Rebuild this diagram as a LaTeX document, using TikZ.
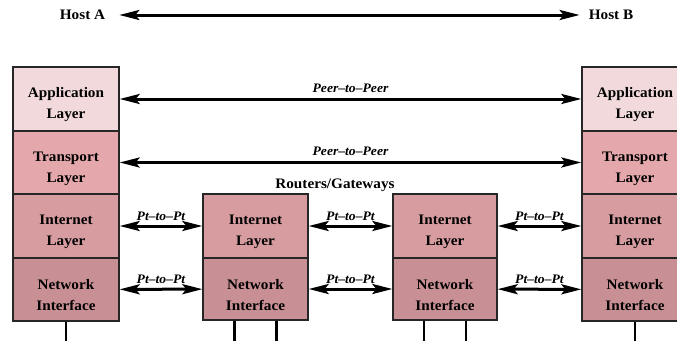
\documentclass[tikz,border=0pt]{standalone}
\usepackage{fontspec}
\setmainfont{Liberation Serif}[FakeStretch=1.05]
\usetikzlibrary{arrows.meta}
\definecolor{appc}{RGB}{242,218,220}
\definecolor{trnc}{RGB}{228,168,172}
\definecolor{inec}{RGB}{214,156,160}
\definecolor{netc}{RGB}{200,144,148}
\begin{document}
\begin{tikzpicture}[x=1pt,y=-1pt,
  layer/.style={draw=black!85, line width=1.3pt, minimum width=106pt, inner sep=0pt},
  lbl/.style={font=\fontsize{14.5}{21}\selectfont\bfseries, align=center},
  tag/.style={font=\fontsize{13}{13}\selectfont\bfseries\itshape, inner sep=1pt},
  arr/.style={line width=3pt, {Stealth[length=20pt,width=10pt,inset=4pt]}-{Stealth[length=20pt,width=10pt,inset=4pt]}},
  leg/.style={line width=2.8pt, black}]
\fill[white] (0,0) rectangle (677,340);
\clip (0,0) rectangle (677,340);
% Host A stack
\node[layer, fill=appc, minimum height=64pt] (hA1) at (66,99) {};
\node[layer, fill=trnc, minimum height=63pt] (hA2) at (66,162.5) {};
\node[layer, fill=inec, minimum height=64pt] (hA3) at (66,226) {};
\node[layer, fill=netc, minimum height=63pt] (hA4) at (66,289.5) {};
% Host B stack
\node[layer, fill=appc, minimum height=64pt] (hB1) at (635,99) {};
\node[layer, fill=trnc, minimum height=63pt] (hB2) at (635,162.5) {};
\node[layer, fill=inec, minimum height=64pt] (hB3) at (635,226) {};
\node[layer, fill=netc, minimum height=63pt] (hB4) at (635,289.5) {};
% Routers
\node[layer, fill=inec, minimum width=105pt, minimum height=64pt] (r1i) at (255.5,226) {};
\node[layer, fill=netc, minimum width=105pt, minimum height=62pt] (r1n) at (255.5,289) {};
\node[layer, fill=inec, minimum width=104pt, minimum height=64pt] (r2i) at (445,226) {};
\node[layer, fill=netc, minimum width=104pt, minimum height=62pt] (r2n) at (445,289) {};
% Layer texts
\foreach \n/\t in {hA1/{Application\\Layer}, hA2/{Transport\\Layer}, hA3/{Internet\\Layer}, hA4/{Network\\Interface},
                   hB1/{Application\\Layer}, hB2/{Transport\\Layer}, hB3/{Internet\\Layer}, hB4/{Network\\Interface},
                   r1i/{Internet\\Layer}, r1n/{Network\\Interface}, r2i/{Internet\\Layer}, r2n/{Network\\Interface}}
  \node[lbl] at ([yshift=-6pt]\n.center) {\t};
% Hosts
\node[lbl, inner sep=0pt] (hostA) at (82.5,15) {Host A};
\node[lbl, inner sep=0pt] (hostB) at (611,15) {Host B};
\draw[arr, shorten <=14pt, shorten >=9pt] (hostA) -- (hostB);
\node[lbl] (rg) at (335,185) {Routers/Gateways};
% Peer arrows
\draw[arr] (hA1) -- node[tag, above=4pt] {Peer–to–Peer} (hB1);
\draw[arr] (hA2) -- node[tag, above=4pt] {Peer–to–Peer} (hB2);
% Point-to-point arrows
\draw[arr] (hA3) -- node[tag, above=3pt] {Pt–to–Pt} (r1i);
\draw[arr] (r1i) -- node[tag, above=3pt] {Pt–to–Pt} (r2i);
\draw[arr] (r2i) -- node[tag, above=3pt] {Pt–to–Pt} (hB3);
\draw[arr] (hA4) -- node[tag, above=3pt] {Pt–to–Pt} (r1n);
\draw[arr] (r1n) -- node[tag, above=3pt] {Pt–to–Pt} (r2n);
\draw[arr] (r2n) -- node[tag, above=3pt] {Pt–to–Pt} (hB4);
% Legs
\coordinate (gA) at (66,342);
\coordinate (gB) at (635,342);
\coordinate (g1a) at (234.5,342);
\coordinate (g1b) at (276.5,342);
\coordinate (g2a) at (424,342);
\coordinate (g2b) at (466,342);
\draw[leg] (hA4.south) -- (gA);
\draw[leg] (hB4.south) -- (gB);
\draw[leg] (g1a |- r1n.south) -- (g1a);
\draw[leg] (g1b |- r1n.south) -- (g1b);
\draw[leg] (g2a |- r2n.south) -- (g2a);
\draw[leg] (g2b |- r2n.south) -- (g2b);
\end{tikzpicture}
\end{document}
